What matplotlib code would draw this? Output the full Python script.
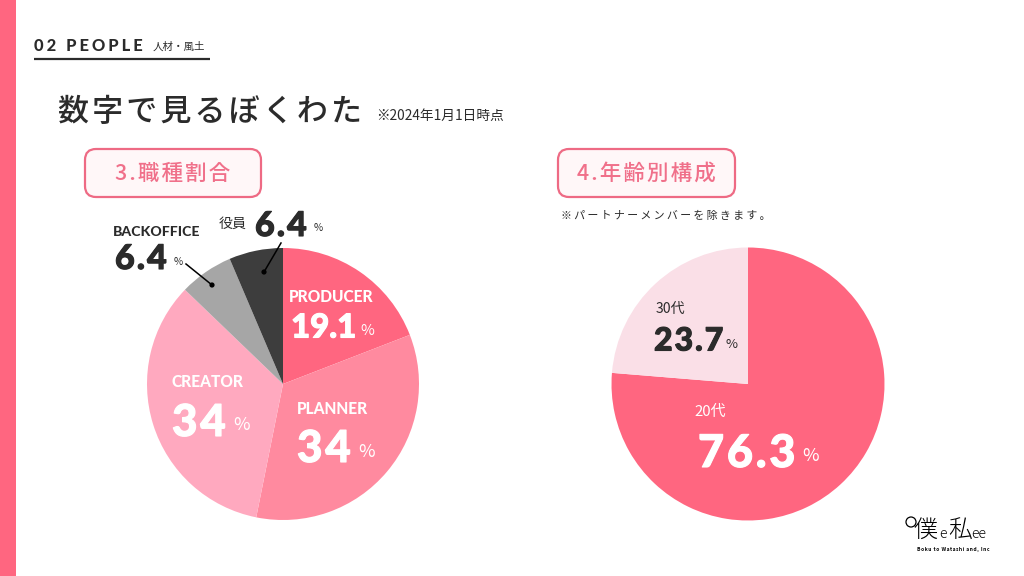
import matplotlib
matplotlib.use('Agg')
import matplotlib.pyplot as plt
import matplotlib.patheffects as pe
from matplotlib.patches import FancyBboxPatch, Rectangle, Circle

plt.rcParams['font.family'] = ['Noto Sans CJK JP', 'DejaVu Sans']

# data
job_labels = ['PRODUCER', 'PLANNER', 'CREATOR', 'BACKOFFICE', '役員']
job_values = [19.1, 34, 34, 6.4, 6.4]
job_colors = ['#ff6680', '#ff8a9f', '#ffa9bf', '#a6a6a6', '#3d3d3d']
age_labels = ['20代', '30代']
age_values = [76.3, 23.7]
age_colors = ['#ff6680', '#fadfe7']

pink = '#ff6680'
dark = '#2b2b2b'
W, H = 1024, 576
hair = '\u200a'


def spaced(s, n=1):
    return (hair * n).join(s)


def put(x, y, s, size, color=dark, weight='normal', ha='left', family=None):
    # x,y are in pixels from top left, size in pixels
    fam = family if family else ['Noto Sans CJK JP', 'DejaVu Sans']
    bg.text(x, y, s, fontsize=size * 0.72, color=color, weight=weight, ha=ha,
            va='center', family=fam, zorder=5)


def pie_at(cx, cy, r, values, colors):
    ax = fig.add_axes([(cx - r) / W, 1 - (cy + r) / H, 2 * r / W, 2 * r / H])
    ax.pie(values, colors=colors, startangle=90, counterclock=False, radius=1,
           wedgeprops={'linewidth': 0})
    ax.set_xlim(-1, 1)
    ax.set_ylim(-1, 1)
    ax.set_aspect('equal')
    ax.axis('off')
    return ax


def badge(x0, y0, x1, y1, s):
    bg.add_patch(FancyBboxPatch((x0 + 11, y0 + 11), x1 - x0 - 22, y1 - y0 - 22,
                                boxstyle='round,pad=11,rounding_size=11',
                                fc='#fff7f8', ec='#ee6a84', lw=1.6))
    put((x0 + x1) / 2, (y0 + y1) / 2 + 1, s, 21.5, color='#f0708a', ha='center', weight='medium')


fig = plt.figure(figsize=(10.24, 5.76), dpi=100, facecolor='white')
bg = fig.add_axes([0, 0, 1, 1], zorder=0)
bg.set_xlim(0, W)
bg.set_ylim(H, 0)
bg.axis('off')

fg = fig.add_axes([0, 0, 1, 1], zorder=3)
fg.set_xlim(0, W)
fg.set_ylim(H, 0)
fg.axis('off')

bg.add_patch(Rectangle((0, 0), 16, H, fc=pink, ec='none'))

# header
put(34, 46, spaced('02 PEOPLE', 3), 16.5, weight='black', family=['Lato', 'DejaVu Sans'])
put(153, 46.5, '人材・風土', 10.5)
bg.plot([34, 210], [59, 59], color=dark, lw=1.6, solid_capstyle='butt')
put(58, 112, spaced('数字で見るぼくわた'), 31, weight='medium')
put(376, 116, '※2024年1月1日時点', 13.7)

badge(85, 149, 261, 197, spaced('3.職種割合'))
badge(558, 149, 735, 197, spaced('4.年齢別構成'))
put(561, 215.5, spaced('※パートナーメンバーを除きます。', 2), 11)

pie_at(283, 384, 136, job_values, job_colors)
pie_at(748, 384, 136.5, age_values, age_colors)


def label(x, y, s, size=16, color='white'):
    fg.text(x, y, s, fontsize=size * 0.72, color=color, weight='black', va='center',
            family=['Lato', 'Noto Sans CJK JP'])


def number(x, y, v, size, color='white', gap=1):
    # heavy geometric digits, thickened a little and opened up
    t = fg.text(x, y, spaced(str(v), gap), fontsize=size * 0.72, color=color, weight='black',
                va='center', family=['Lato', 'DejaVu Sans'])
    t.set_path_effects([pe.withStroke(linewidth=0.8, foreground=color)])


def pct(x, y, s, size=15, color='white'):
    fg.text(x, y, s, fontsize=size * 0.72, color=color, va='center',
            family=['Noto Sans CJK JP', 'DejaVu Sans'])


# left pie labels
label(289, 297, job_labels[0], 15.5)
number(291, 328, job_values[0], 33, gap=0)
pct(360, 331, '%', 15)
label(297, 409, job_labels[1], 15.5)
number(297, 449, job_values[1], 44)
pct(358, 452, '%', 18)
label(171, 382, job_labels[2], 15.5)
number(172, 423, job_values[2], 44)
pct(233, 425, '%', 18)

label(113, 232, job_labels[3], 14, dark)
number(115, 259, job_values[3], 34, dark)
pct(174, 262, '%', 10, dark)
fg.text(219, 224, job_labels[4], fontsize=14 * 0.72, color=dark, va='center')
number(255, 226, job_values[4], 34, dark)
pct(314, 228, '%', 10, dark)

# leader lines
fg.plot([186, 212], [264, 285], color='black', lw=1.1)
fg.add_patch(Circle((212, 285), 2.6, fc='black', ec='none'))
fg.plot([281, 264], [243, 272], color='black', lw=1.1)
fg.add_patch(Circle((264, 272), 2.6, fc='black', ec='none'))

# right pie labels
fg.text(694, 412, age_labels[0], fontsize=15 * 0.72, color='white', va='center')
number(698, 454, age_values[0], 45)
pct(802, 456, '%', 18)
fg.text(656, 309, age_labels[1], fontsize=14 * 0.72, color=dark, va='center')
number(654, 341, age_values[1], 32, dark)
pct(725, 345, '%', 13, dark)

# logo
fg.add_patch(Circle((911, 522), 5, fc='none', ec='black', lw=0.9))
fg.text(914, 530, '僕', fontsize=24 * 0.72, color='black', va='center', weight='light')
fg.text(939, 534, 'e', fontsize=14 * 0.72, color='black', va='center', weight='light')
fg.text(948, 530, '私', fontsize=24 * 0.72, color='black', va='center', weight='light')
fg.text(971, 534, 'ee', fontsize=14 * 0.72, color='black', va='center', weight='light')
fg.text(917, 549, spaced('Boku to Watashi and, Inc'), fontsize=3.6, color='black', va='center', weight='bold')

fig.savefig('out.png', dpi=100)
